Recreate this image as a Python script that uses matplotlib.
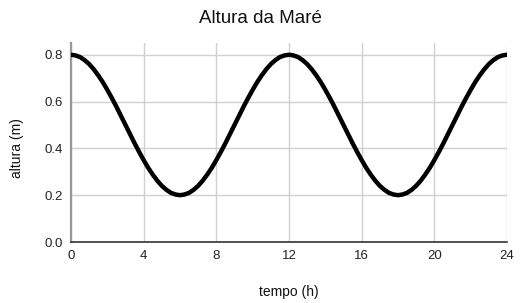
import numpy as np
import matplotlib
matplotlib.use("Agg")
import matplotlib.pyplot as plt

plt.rcParams['font.family'] = ['Liberation Sans', 'DejaVu Sans']

# leitura do grafico a cada quarto de hora (0 a 6 h, depois o desenho se repete espelhado)
descida = [0.800, 0.797, 0.790, 0.777, 0.760, 0.738, 0.712, 0.683, 0.650, 0.615, 0.578, 0.539,
           0.500, 0.461, 0.422, 0.385, 0.350, 0.317, 0.288, 0.262, 0.240, 0.223, 0.210, 0.203]
subida = [0.200] + descida[:0:-1]
ciclo = descida + subida
altura = ciclo + ciclo + [0.800]
tempo = [i * 0.25 for i in range(len(altura))]
xticks = [0, 4, 8, 12, 16, 20, 24]
yticks = [0.0, 0.2, 0.4, 0.6, 0.8]

fig = plt.figure(figsize=(5.2, 3.03), dpi=100)
ax = fig.add_axes([0.1365, 0.2013, 0.8385, 0.6567])

ax.plot(tempo, altura, color='black', linewidth=3.2, solid_capstyle='round',
        solid_joinstyle='round', zorder=3)

ax.set_xlim(0, 24)
ax.set_ylim(0, 0.85)
ax.set_xticks(xticks)
ax.set_yticks(yticks)
ax.set_yticklabels(["%.1f" % v for v in yticks])
ax.grid(True, color='#d0d0d0', linewidth=1.0)
ax.set_axisbelow(True)
ax.tick_params(length=0, labelsize=9.5, colors='#222222', pad=6)

for s in ['top', 'right']:
    ax.spines[s].set_visible(False)
ax.spines['left'].set_color('#999999')
ax.spines['left'].set_linewidth(1.6)
ax.spines['bottom'].set_color('#333333')
ax.spines['bottom'].set_linewidth(1.2)

fig.text(0.5, 0.94, "Altura da Maré", ha='center', va='center', fontsize=13.5, color='#111111')
fig.text(0.556, 0.036, "tempo (h)", ha='center', va='center', fontsize=10, color='#111111')
fig.text(0.033, 0.51, "altura (m)", ha='center', va='center', rotation=90, fontsize=10, color='#111111')

fig.savefig("out.png", dpi=100)
